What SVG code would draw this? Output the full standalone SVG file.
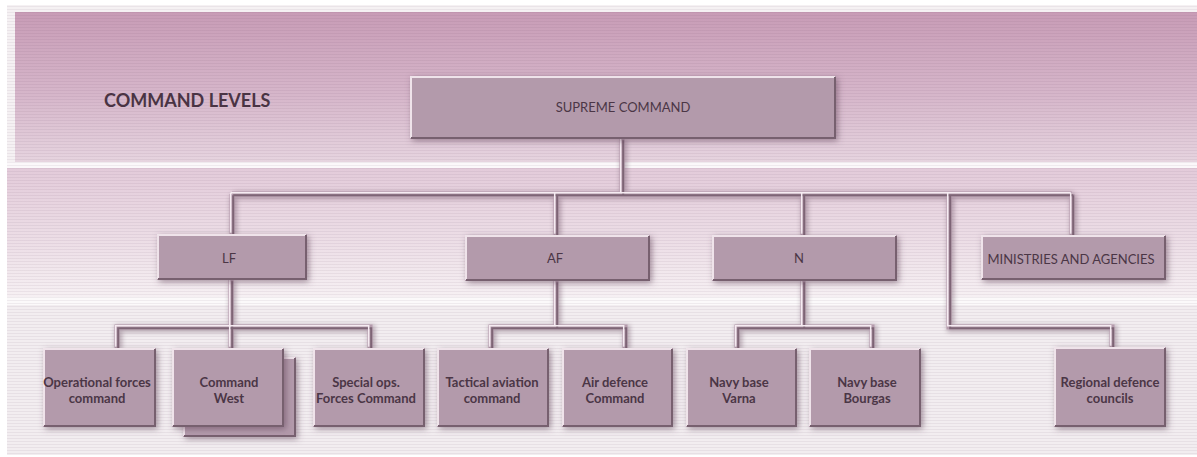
<svg xmlns="http://www.w3.org/2000/svg" width="1197" height="457" viewBox="0 0 1197 457">
<defs>
<linearGradient id="gTop" x1="0" y1="0" x2="0" y2="1">
<stop offset="0" stop-color="#c89cb6"/>
<stop offset="0.55" stop-color="#d6b6ca"/>
<stop offset="1" stop-color="#e6d4df"/>
</linearGradient>
<linearGradient id="gMid" x1="0" y1="0" x2="0" y2="1">
<stop offset="0" stop-color="#e3cbda"/>
<stop offset="0.6" stop-color="#eddfe7"/>
<stop offset="1" stop-color="#f6f0f3"/>
</linearGradient>
<pattern id="lines" width="8" height="3" patternUnits="userSpaceOnUse">
<rect x="0" y="0" width="8" height="1" fill="#5a3a50" opacity="0.07"/>
</pattern>
<filter id="shadow" x="-20%" y="-30%" width="140%" height="160%">
<feGaussianBlur in="SourceAlpha" stdDeviation="3"/>
<feOffset dx="2" dy="2" result="b"/>
<feFlood flood-color="#5e4256" flood-opacity="0.55"/>
<feComposite in2="b" operator="in"/>
<feMerge><feMergeNode/><feMergeNode in="SourceGraphic"/></feMerge>
</filter>
<filter id="lshadow" x="-10%" y="-10%" width="120%" height="120%">
<feGaussianBlur stdDeviation="2.5"/>
</filter>
<style>
.box{fill:#b39aab;}
.lt{fill:none;stroke:#efe3ea;stroke-width:2;}
.dk{fill:none;stroke:#77606f;stroke-width:2;}
.t{font-family:Lato,"Open Sans","DejaVu Sans",sans-serif;fill:#4b3646;text-anchor:middle;}
.t1{font-size:13px;}
.t2{font-size:13px;font-weight:bold;}
.c-sh{fill:none;stroke:#6e5366;stroke-width:7;opacity:0.45;}
.c-base{fill:none;stroke:#b59cad;stroke-width:5;}
.c-dk{fill:none;stroke:#7e6576;stroke-width:2;}
.c-lt{fill:none;stroke:#f6ecf2;stroke-width:1.5;}
</style>
<path id="conn" d="M622,139 V194 M232,194 H1072 M232,194 V234 M556,194 V235 M803,194 V235 M1072,194 V235 M949,194 V327 H1112 V347 M231,280 V348 M117,348 V327 H370 V348 M556,281 V327 M491,348 V327 H625 V348 M803,281 V327 M737,348 V327 H872 V348"/>
</defs>

<g id="background">
<rect x="0" y="0" width="1197" height="457" fill="#ffffff"/>
<rect x="7" y="5" width="1190" height="450" fill="#f5f1f3"/>
<rect x="15" y="12" width="1182" height="150" fill="url(#gTop)"/>
<rect x="7" y="162" width="1190" height="6" fill="#fbf8fa"/>
<rect x="7" y="168" width="1190" height="129" fill="url(#gMid)"/>
<rect x="7" y="297" width="1190" height="8" fill="#fbf9fa"/>
<rect x="7" y="305" width="1190" height="150" fill="#f2edf0"/>
<rect x="7" y="5" width="1190" height="450" fill="url(#lines)"/>
</g>

<text id="title" class="t" x="104" y="107" style="font-size:18px;font-weight:bold;text-anchor:start;fill:#4a3444">COMMAND LEVELS</text>

<g id="connectors">
<use href="#conn" class="c-sh" filter="url(#lshadow)" transform="translate(1.5,1.5)"/>
<use href="#conn" class="c-base"/>
<use href="#conn" class="c-dk" transform="translate(1.2,1.2)"/>
<use href="#conn" class="c-lt" transform="translate(-1.3,-1.3)"/>
</g>

<g id="supreme">
<rect class="box" x="410" y="76" width="426" height="63" filter="url(#shadow)"/>
<path class="lt" d="M411,138 V77 H835"/><path class="dk" d="M411,138 H835 V77"/>
<text class="t t1" x="623" y="112">SUPREME COMMAND</text>
</g>

<g id="lf">
<rect class="box" x="157" y="234" width="150" height="46" filter="url(#shadow)"/>
<path class="lt" d="M158,279 V235 H306"/><path class="dk" d="M158,279 H306 V235"/>
<text class="t t1" x="229" y="263">LF</text>
</g>

<g id="af">
<rect class="box" x="465" y="235" width="185" height="46" filter="url(#shadow)"/>
<path class="lt" d="M466,280 V236 H649"/><path class="dk" d="M466,280 H649 V236"/>
<text class="t t1" x="555" y="263">AF</text>
</g>

<g id="n">
<rect class="box" x="712" y="235" width="185" height="46" filter="url(#shadow)"/>
<path class="lt" d="M713,280 V236 H896"/><path class="dk" d="M713,280 H896 V236"/>
<text class="t t1" x="799" y="263">N</text>
</g>

<g id="ministries">
<rect class="box" x="981" y="235" width="185" height="45" filter="url(#shadow)"/>
<path class="lt" d="M982,279 V236 H1165"/><path class="dk" d="M982,279 H1165 V236"/>
<text class="t t1" x="1071" y="264">MINISTRIES AND AGENCIES</text>
</g>

<g id="operational">
<rect class="box" x="43" y="348" width="113" height="79" filter="url(#shadow)"/>
<path class="lt" d="M44,426 V349 H155"/><path class="dk" d="M44,426 H155 V349"/>
<text class="t t2" x="97" y="387">Operational forces</text>
<text class="t t2" x="97" y="403">command</text>
</g>

<g id="command-west">
<rect class="box" x="183" y="357" width="113" height="80" filter="url(#shadow)"/>
<path class="lt" d="M184,436 V358 H295"/><path class="dk" d="M184,436 H295 V358"/>
<rect class="box" x="172" y="348" width="112" height="79" filter="url(#shadow)"/>
<path class="lt" d="M173,426 V349 H283"/><path class="dk" d="M173,426 H283 V349"/>
<text class="t t2" x="229" y="387">Command</text>
<text class="t t2" x="229" y="403">West</text>
</g>

<g id="special-ops">
<rect class="box" x="313" y="348" width="112" height="79" filter="url(#shadow)"/>
<path class="lt" d="M314,426 V349 H424"/><path class="dk" d="M314,426 H424 V349"/>
<text class="t t2" x="366" y="387">Special ops.</text>
<text class="t t2" x="366" y="403">Forces Command</text>
</g>

<g id="tactical">
<rect class="box" x="437" y="348" width="112" height="79" filter="url(#shadow)"/>
<path class="lt" d="M438,426 V349 H548"/><path class="dk" d="M438,426 H548 V349"/>
<text class="t t2" x="492" y="387">Tactical aviation</text>
<text class="t t2" x="492" y="403">command</text>
</g>

<g id="air-defence">
<rect class="box" x="562" y="348" width="111" height="79" filter="url(#shadow)"/>
<path class="lt" d="M563,426 V349 H672"/><path class="dk" d="M563,426 H672 V349"/>
<text class="t t2" x="615" y="387">Air defence</text>
<text class="t t2" x="615" y="403">Command</text>
</g>

<g id="navy-varna">
<rect class="box" x="686" y="348" width="111" height="79" filter="url(#shadow)"/>
<path class="lt" d="M687,426 V349 H796"/><path class="dk" d="M687,426 H796 V349"/>
<text class="t t2" x="739" y="387">Navy base</text>
<text class="t t2" x="739" y="403">Varna</text>
</g>

<g id="navy-bourgas">
<rect class="box" x="809" y="348" width="112" height="79" filter="url(#shadow)"/>
<path class="lt" d="M810,426 V349 H920"/><path class="dk" d="M810,426 H920 V349"/>
<text class="t t2" x="867" y="387">Navy base</text>
<text class="t t2" x="867" y="403">Bourgas</text>
</g>

<g id="regional">
<rect class="box" x="1054" y="347" width="112" height="80" filter="url(#shadow)"/>
<path class="lt" d="M1055,426 V348 H1165"/><path class="dk" d="M1055,426 H1165 V348"/>
<text class="t t2" x="1110" y="387">Regional defence</text>
<text class="t t2" x="1110" y="403">councils</text>
</g>
</svg>
